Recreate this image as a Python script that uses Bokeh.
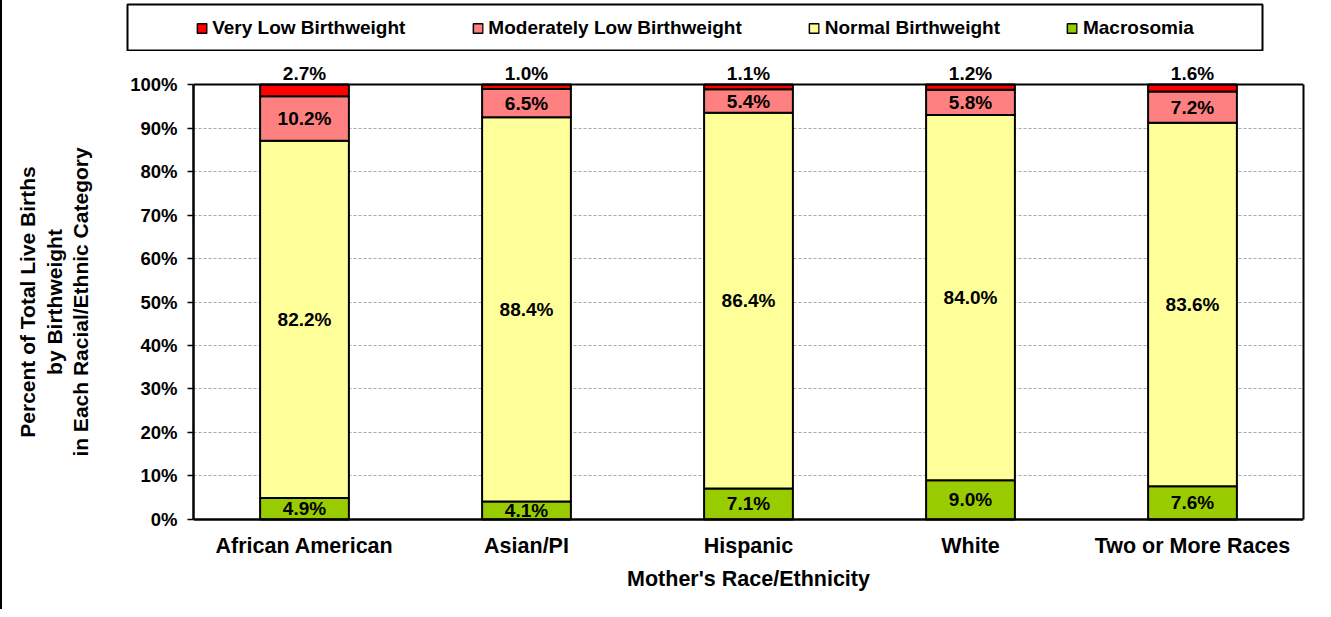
from bokeh.plotting import figure
from bokeh.models import (ColumnDataSource, LabelSet, Legend, LegendItem, Range1d,
                          FactorRange, FixedTicker, PrintfTickFormatter, Spacer,
                          Span, LinearAxis)
from bokeh.core.properties import value
from bokeh.layouts import row, column
from bokeh.embed import file_html
from bokeh.resources import INLINE

# ---------------- data ----------------
categories = ["African American", "Asian/PI", "Hispanic", "White", "Two or More Races"]
very_low = [2.7, 1.0, 1.1, 1.2, 1.6]
mod_low = [10.2, 6.5, 5.4, 5.8, 7.2]
normal = [82.2, 88.4, 86.4, 84.0, 83.6]
macro = [4.9, 4.1, 7.1, 9.0, 7.6]
series_names = ["Very Low Birthweight", "Moderately Low Birthweight",
                "Normal Birthweight", "Macrosomia"]
y_ticks = [0, 10, 20, 30, 40, 50, 60, 70, 80, 90, 100]

# ---------------- styles ----------------
FONT = "Liberation Sans"
col_vlow = "#FF0000"
col_mlow = "#FF8080"
col_norm = "#FFFF99"
col_macro = "#99CC00"

src = ColumnDataSource(dict(
    cat=categories, vlow=very_low, mlow=mod_low, norm=normal, macro=macro,
))

# label positions computed from the data
macro_c = [m / 2 for m in macro]
norm_c = [m + n / 2 for m, n in zip(macro, normal)]
mlow_c = [m + n + ml / 2 for m, n, ml in zip(macro, normal, mod_low)]
top_all = [m + n + ml + v for m, n, ml, v in zip(macro, normal, mod_low, very_low)]
lab_src = ColumnDataSource(dict(
    cat=categories,
    macro_y=macro_c, norm_y=norm_c, mlow_y=mlow_c, vlow_y=top_all,
    macro_t=[f"{v:.1f}%" for v in macro],
    norm_t=[f"{v:.1f}%" for v in normal],
    mlow_t=[f"{v:.1f}%" for v in mod_low],
    vlow_t=[f"{v:.1f}%" for v in very_low],
))

# ---------------- main chart ----------------
# the range is padded symmetrically so the labels above 100% are not clipped
# while the axis title stays centred on the 0-100% plot area
p = figure(x_range=FactorRange(*categories), y_range=Range1d(-6, 106),
           frame_width=1110, frame_height=487,
           min_border_left=191, min_border_right=10, min_border_top=7, min_border_bottom=64,
           toolbar_location=None, output_backend="svg",
           outline_line_color=None)
p.frame_align = False

p.vbar_stack(["macro", "norm", "mlow", "vlow"], x="cat", width=0.4, source=src,
             color=[col_macro, col_norm, col_mlow, col_vlow],
             line_color="black", line_width=2)

# top border of the plot area (100% line) and the category-axis line (0%)
p.add_layout(Span(location=100, dimension="width", line_color="black", line_width=2))
p.add_layout(Span(location=0, dimension="width", line_color="black", line_width=2.5))

for ycol, tcol, off, base in [("macro_y", "macro_t", 0, "middle"),
                              ("norm_y", "norm_t", 0, "middle"),
                              ("mlow_y", "mlow_t", 0, "middle"),
                              ("vlow_y", "vlow_t", 1, "bottom")]:
    p.add_layout(LabelSet(x="cat", y=ycol, text=tcol, source=lab_src, y_offset=off,
                          text_align="center", text_baseline=base,
                          text_font=value(FONT), text_font_style="bold",
                          text_font_size="19px", text_color="black"))

p.xgrid.grid_line_color = None
p.ygrid.ticker = FixedTicker(ticks=y_ticks[1:])
p.ygrid.grid_line_color = "#a8a8a8"
p.ygrid.grid_line_dash = "3 2"
p.ygrid.grid_line_width = 1

p.yaxis.ticker = FixedTicker(ticks=y_ticks)
p.yaxis.bounds = (0, 100)
p.yaxis.formatter = PrintfTickFormatter(format="%d%%")
p.yaxis.axis_line_width = 2.5
p.yaxis.axis_line_color = "black"
p.yaxis.major_tick_out = 6
p.yaxis.major_tick_in = 0
p.yaxis.major_tick_line_width = 1.5
p.yaxis.minor_tick_line_color = None
p.yaxis.major_label_standoff = 10
p.yaxis.major_label_text_font = FONT
p.yaxis.major_label_text_font_style = "bold"
p.yaxis.major_label_text_font_size = "18.5px"
p.yaxis.major_label_text_color = "black"
p.yaxis.axis_label = "Percent of Total Live Births\nby Birthweight\nin Each Racial/Ethnic Category"
p.yaxis.axis_label_text_font = FONT
p.yaxis.axis_label_text_font_style = "bold"
p.yaxis.axis_label_text_font_size = "21px"
p.yaxis.axis_label_text_color = "black"
p.yaxis.axis_label_text_line_height = 1.15
p.yaxis.axis_label_standoff = 35

# right border of the plot area
right_axis = LinearAxis(ticker=FixedTicker(ticks=[]), bounds=(0, 100),
                        axis_line_color="black", axis_line_width=2,
                        major_tick_line_color=None, minor_tick_line_color=None,
                        major_label_text_font_size="0px", major_label_standoff=0)
p.add_layout(right_axis, "right")

p.xaxis.axis_line_color = None
p.xaxis.major_tick_line_color = None
p.xaxis.major_tick_out = 0
p.xaxis.major_tick_in = 0
p.xaxis.major_label_standoff = -12
p.xaxis.major_label_text_font = FONT
p.xaxis.major_label_text_font_style = "bold"
p.xaxis.major_label_text_font_size = "21.5px"
p.xaxis.major_label_text_color = "black"
p.xaxis.axis_label = "Mother's Race/Ethnicity"
p.xaxis.axis_label_text_font = FONT
p.xaxis.axis_label_text_font_style = "bold"
p.xaxis.axis_label_text_font_size = "21.5px"
p.xaxis.axis_label_text_color = "black"
p.xaxis.axis_label_standoff = 6

# ---------------- legend box ----------------
lf = figure(x_range=Range1d(0, 1), y_range=Range1d(0, 1),
            frame_width=1135, frame_height=47,
            min_border_left=125, min_border_right=2, min_border_top=4, min_border_bottom=0,
            x_axis_location=None, y_axis_location=None,
            toolbar_location=None, output_backend="svg",
            outline_line_color="black", outline_line_width=2)
lf.frame_align = False
lf.grid.grid_line_color = None

items = []
for name, c in zip(series_names, [col_vlow, col_mlow, col_norm, col_macro]):
    # one hidden (out-of-range) bar so the legend swatch has something to draw from
    r = lf.vbar(x=[5], top=[5], bottom=[4], width=0.1, fill_color=c,
                line_color="black", line_width=1.5)
    items.append(LegendItem(label=name, renderers=[r]))

legend = Legend(items=items, orientation="horizontal", location="center",
                spacing=66, padding=0, margin=0, glyph_width=12, glyph_height=12,
                label_standoff=5, border_line_color=None, background_fill_alpha=0,
                label_text_font=FONT, label_text_font_style="bold",
                label_text_font_size="19px", label_text_color="black")
lf.add_layout(legend, "center")

layout = row(Spacer(width=2, height=609, styles={"background-color": "black"}),
             column(lf, p, spacing=0))

open("out.html", "w").write(file_html(layout, INLINE))
